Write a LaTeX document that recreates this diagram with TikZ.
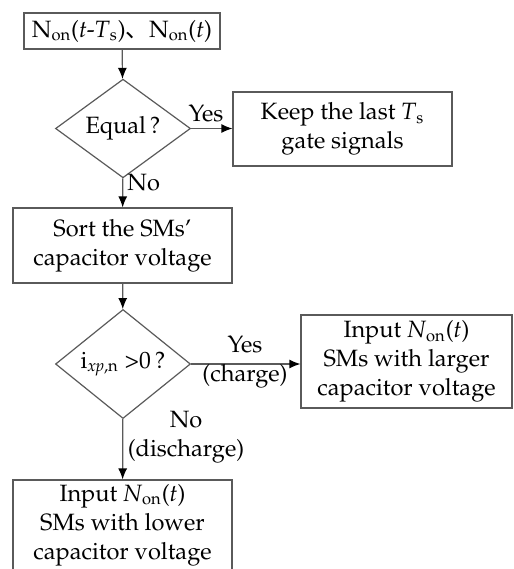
\documentclass[tikz,border=0pt]{standalone}
\usepackage[T1]{fontenc}
\usepackage{fontspec}
\usepackage{tikz}
\usetikzlibrary{shapes.geometric,arrows.meta,positioning,calc}
\newfontfamily\cjk{Noto Sans CJK SC}
\newcommand\pal{\fontencoding{T1}\fontfamily{ppl}\fontsize{11.8}{14.6}\selectfont}
\newcommand\Non{N\textsubscript{on}}
\newcommand\iNon{\textit{N}\textsubscript{on}}
\definecolor{linegray}{HTML}{5A5A5A}

\begin{document}
\begin{tikzpicture}[x=0.5pt,y=-0.5pt,
  box/.style={draw=linegray,line width=0.6pt,align=center,inner sep=1pt,font=\pal},
  decision/.style={diamond,draw=linegray,line width=0.6pt,inner sep=0pt,font=\pal},
  flow/.style={draw=linegray,line width=0.6pt,-{Latex[length=5.5pt,width=4.5pt,black]}},
  lbl/.style={align=center,inner sep=0pt,font=\pal}]
  \useasboundingbox (0,0) rectangle (514,569);

  % Step count check
  \node[box,minimum width=98pt,minimum height=18pt] (start) at (122,31)
    {\Non(\textit{t}-\textit{T}\textsubscript{s}){\cjk 、}\Non(\textit{t})};
  \node[decision,minimum width=67.5pt,minimum height=38.5pt] (equal) at (123,128.5) {Equal\,?};
  \node[box,minimum width=109.5pt,minimum height=37pt] (keep) at (342.5,129)
    {Keep the last \textit{T}\textsubscript{s}\\gate signals};

  % Sorting
  \node[box,minimum width=109.5pt,minimum height=37.5pt] (sort) at (122.5,245.5)
    {Sort the SMs'\\capacitor voltage};
  \node[decision,minimum width=67.5pt,minimum height=38pt] (current) at (123,364)
    {i\textsubscript{\textit{xp},n} >0\,?};

  % Selection of SMs
  \node[box,minimum width=105.5pt,minimum height=46.5pt] (larger) at (406.5,361.5)
    {Input \iNon(\textit{t})\\SMs with larger\\capacitor voltage};
  \node[box,minimum width=109.5pt,minimum height=45pt] (lower) at (122.5,525)
    {Input \iNon(\textit{t})\\SMs with lower\\capacitor voltage};

  % Connectors
  \draw[flow] (start) -- (equal);
  \draw[flow] (equal.east) -- (equal.east -| keep.west);
  \draw[flow] (equal) -- (sort);
  \draw[flow] (sort) -- (current);
  \draw[flow] (current.east) -- (current.east -| larger.west);
  \draw[flow] (current) -- (lower);

  % Branch labels
  \node[lbl] (yes1) at (206,114) {Yes};
  \node[lbl,anchor=west] (no1) at (127,183) {No};
  \node[lbl] (yes2) at (245,362.5) {Yes\\(charge)};
  \node[lbl] (no2) at (186,437) {No\\(discharge)};
\end{tikzpicture}
\end{document}
